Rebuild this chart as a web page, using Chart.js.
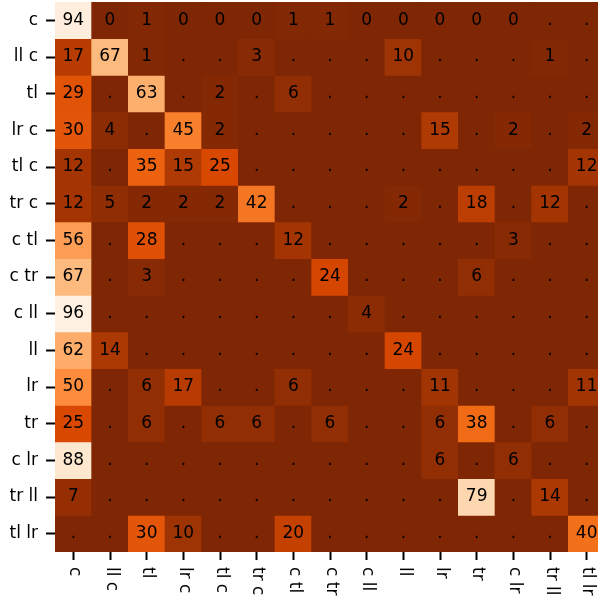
<!DOCTYPE html>
<html>
<head>
<meta charset="utf-8">
<script src="https://cdn.jsdelivr.net/npm/chart.js@4"></script>
<style>
html, body { margin: 0; padding: 0; overflow: hidden; background: #fff; }
canvas { display: block; }
</style>
</head>
<body>
<canvas id="c" width="605" height="603"></canvas>
<script>
// Row (true) and column (predicted) labels
const rowLabels = ['c', 'll c', 'tl', 'lr c', 'tl c', 'tr c', 'c tl', 'c tr', 'c ll', 'll', 'lr', 'tr', 'c lr', 'tr ll', 'tl lr'];
const colLabels = ['c', 'll c', 'tl', 'lr c', 'tl c', 'tr c', 'c tl', 'c tr', 'c ll', 'll', 'lr', 'tr', 'c lr', 'tr ll', 'tl lr'];

// Cell values per row (null = shown as ".")
const row_c    = [94, 0, 1, 0, 0, 0, 1, 1, 0, 0, 0, 0, 0, null, null];
const row_llc  = [17, 67, 1, null, null, 3, null, null, null, 10, null, null, null, 1, null];
const row_tl   = [29, null, 63, null, 2, null, 6, null, null, null, null, null, null, null, null];
const row_lrc  = [30, 4, null, 45, 2, null, null, null, null, null, 15, null, 2, null, 2];
const row_tlc  = [12, null, 35, 15, 25, null, null, null, null, null, null, null, null, null, 12];
const row_trc  = [12, 5, 2, 2, 2, 42, null, null, null, 2, null, 18, null, 12, null];
const row_ctl  = [56, null, 28, null, null, null, 12, null, null, null, null, null, 3, null, null];
const row_ctr  = [67, null, 3, null, null, null, null, 24, null, null, null, 6, null, null, null];
const row_cll  = [96, null, null, null, null, null, null, null, 4, null, null, null, null, null, null];
const row_ll   = [62, 14, null, null, null, null, null, null, null, 24, null, null, null, null, null];
const row_lr   = [50, null, 6, 17, null, null, 6, null, null, null, 11, null, null, null, 11];
const row_tr   = [25, null, 6, null, 6, 6, null, 6, null, null, 6, 38, null, 6, null];
const row_clr  = [88, null, null, null, null, null, null, null, null, null, 6, null, 6, null, null];
const row_trll = [7, null, null, null, null, null, null, null, null, null, null, 79, null, 14, null];
const row_tllr = [null, null, 30, 10, null, null, 20, null, null, null, null, null, null, null, 40];

const values = [row_c, row_llc, row_tl, row_lrc, row_tlc, row_trc, row_ctl, row_ctr, row_cll,
                row_ll, row_lr, row_tr, row_clr, row_trll, row_tllr];

const vmin = 0, vmax = 100;

// Oranges colormap stops (reversed when used)
const orangeStops = [
  [255,245,235],[254,230,206],[253,208,162],[253,174,107],[253,141,60],
  [241,105,19],[217,72,1],[166,54,3],[127,39,4]
];
function orangesR(v) {
  let t = 1 - Math.max(0, Math.min(1, ((v == null ? 0 : v) - vmin) / (vmax - vmin)));
  const n = orangeStops.length - 1;
  const p = t * n;
  const i = Math.min(n - 1, Math.floor(p));
  const f = p - i;
  const a = orangeStops[i], b = orangeStops[i + 1];
  const c = a.map((x, k) => Math.round(x + (b[k] - x) * f));
  return `rgb(${c[0]},${c[1]},${c[2]})`;
}

const FONT = '"DejaVu Sans", Verdana, sans-serif';

const datasets = values.map((row, r) => ({
  label: rowLabels[r],
  data: row.map(() => 1),
  backgroundColor: row.map(v => orangesR(v)),
  borderWidth: 0,
  barPercentage: 1,
  categoryPercentage: 1
}));

const labelPlugin = {
  id: 'heatLabels',
  afterDatasetsDraw(chart) {
    const ctx = chart.ctx;
    const xs = chart.scales.x, ys = chart.scales.y;
    ctx.save();
    ctx.fillStyle = '#000';
    ctx.font = '17px ' + FONT;
    ctx.textAlign = 'center';
    ctx.textBaseline = 'middle';
    values.forEach((row, r) => {
      row.forEach((v, c) => {
        const x = xs.getPixelForValue(c);
        const y = ys.getPixelForValue(r + 0.5);
        ctx.fillText(v == null ? '.' : String(v), x, y);
      });
    });
    ctx.restore();
  },
  afterDraw(chart) {
    const ctx = chart.ctx;
    const xs = chart.scales.x, ys = chart.scales.y;
    ctx.save();
    ctx.fillStyle = '#000';
    ctx.font = '17px ' + FONT;
    ctx.textAlign = 'right';
    ctx.textBaseline = 'middle';
    rowLabels.forEach((lab, r) => {
      ctx.fillText(lab, ys.left + ys.width - 17, ys.getPixelForValue(r + 0.5));
    });
    colLabels.forEach((lab, c) => {
      ctx.save();
      ctx.translate(xs.getPixelForValue(c) + 1, xs.top + 15);
      ctx.rotate(Math.PI / 2);
      ctx.textAlign = 'left';
      ctx.textBaseline = 'middle';
      ctx.fillText(lab, 0, 0);
      ctx.restore();
    });
    ctx.restore();
  }
};

new Chart(document.getElementById('c'), {
  type: 'bar',
  data: { labels: colLabels, datasets },
  options: {
    responsive: false,
    animation: false,
    layout: { padding: { top: 2, left: 0, right: 0, bottom: 0 } },
    plugins: { legend: { display: false }, tooltip: { enabled: false } },
    scales: {
      x: {
        stacked: true,
        offset: true,
        border: { display: false },
        grid: { offset: false, drawOnChartArea: false, drawTicks: true, tickLength: 8, tickWidth: 2, tickColor: '#000', color: '#000' },
        ticks: { display: false },
        afterFit(scale) { scale.height = 51; }
      },
      y: {
        stacked: true,
        min: 0,
        max: rowLabels.length,
        reverse: true,
        border: { display: false },
        grid: { drawOnChartArea: false, drawTicks: true, tickLength: 9, tickWidth: 2, tickColor: '#000', color: '#000' },
        ticks: { display: false },
        afterBuildTicks(scale) { scale.ticks = rowLabels.map((_, i) => ({ value: i + 0.5 })); },
        afterFit(scale) { scale.width = 55; }
      }
    }
  },
  plugins: [labelPlugin]
});
</script>
</body>
</html>
